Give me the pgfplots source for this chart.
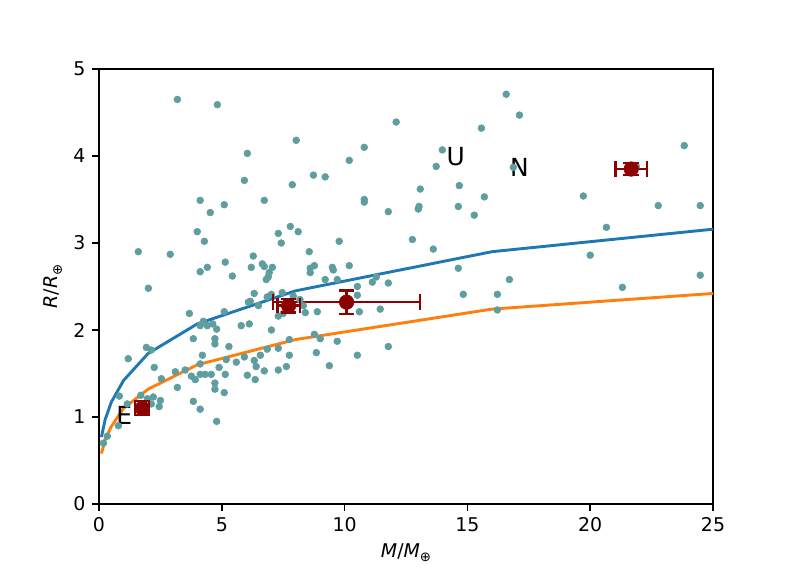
\documentclass[border=0pt]{standalone}
\usepackage{pgfplots}
\pgfplotsset{compat=1.18}
\usepackage{fontspec}
\setmainfont{DejaVu Sans}
\definecolor{cadet}{HTML}{5F9EA0}
\definecolor{dred}{HTML}{8B0000}
\definecolor{mblue}{HTML}{1F77B4}
\definecolor{morange}{HTML}{FF7F0E}
\newcommand{\oplussub}{\raisebox{-0.22em}{\fontsize{13.3}{13}\selectfont ⊕}}
\begin{document}
\begin{tikzpicture}
\useasboundingbox (0,0) rectangle (792bp,576bp);
\begin{axis}[
  at={(99bp,72bp)}, anchor=south west,
  scale only axis, width=614bp, height=435bp,
  xmin=0, xmax=25, ymin=0, ymax=5,
  xtick={0,5,10,15,20,25}, ytick={0,1,2,3,4,5},
  xtick pos=bottom, ytick pos=left,
  tick align=outside, major tick length=6.7bp,
  tick style={line width=1.5bp, black},
  axis line style={line width=1.5bp},
  ticklabel style={font=\fontsize{19}{19}\selectfont},
  /pgf/number format/assume math mode=true,
  xticklabel style={inner sep=0pt, yshift=-6.7bp},
  yticklabel style={inner sep=0pt, xshift=-6.7bp},
  xlabel={\textit{M}/\textit{M}\oplussub},
  ylabel={\textit{R}/\textit{R}\oplussub},
  label style={font=\fontsize{19}{19}\selectfont},
  xlabel style={at={(axis description cs:0.5,0)}, anchor=center, yshift=-49bp},
  ylabel style={at={(axis description cs:0,0.5)}, anchor=center, rotate=0, yshift=46bp},
  clip=true,
  unbounded coords=jump,
]
\addplot[cadet, only marks, mark=*, mark size=3.4bp, mark options={solid, draw=cadet, fill=cadet, line width=0.6bp}] table {
x y
3.19 4.65
4.82 4.59
8.03 4.18
6.04 4.03
5.92 3.72
7.87 3.67
4.12 3.49
5.10 3.44
6.73 3.49
4.53 3.35
4.00 3.13
4.29 3.02
7.30 3.11
7.79 3.19
8.11 3.13
7.42 3.00
1.60 2.90
2.90 2.87
5.14 2.78
6.28 2.85
4.12 2.67
4.41 2.72
5.43 2.62
6.20 2.72
6.65 2.76
6.73 2.73
7.06 2.72
6.93 2.66
6.89 2.61
6.81 2.58
2.01 2.48
8.73 3.78
9.21 3.76
8.56 2.90
8.60 2.71
8.77 2.74
8.60 2.66
9.50 2.72
9.54 2.69
9.21 2.58
9.70 2.58
9.78 3.02
12.10 4.39
10.80 4.10
10.19 3.95
16.58 4.71
17.12 4.47
15.57 4.32
13.98 4.07
13.73 3.88
14.67 3.66
15.69 3.53
13.08 3.62
10.80 3.50
10.80 3.47
11.78 3.36
13.03 3.42
13.00 3.39
14.63 3.42
15.28 3.32
12.76 3.04
13.61 2.93
10.19 2.74
10.52 2.50
11.13 2.55
11.29 2.61
11.78 2.54
14.63 2.71
16.71 2.58
16.87 3.87
23.83 4.12
21.88 3.88
19.72 3.54
22.77 3.43
24.48 3.43
20.66 3.18
20.00 2.86
21.31 2.49
24.48 2.63
8.18 2.35
8.32 2.28
8.40 2.20
8.89 2.21
10.52 2.40
10.60 2.21
11.45 2.24
14.83 2.41
16.22 2.41
16.22 2.23
8.77 1.95
9.01 1.90
9.70 1.87
8.85 1.74
9.38 1.59
10.52 1.71
11.78 1.81
6.32 2.42
6.08 2.32
6.16 2.33
6.85 2.38
7.02 2.41
7.46 2.43
7.91 2.39
5.10 2.21
6.49 2.28
7.30 2.16
7.50 2.19
5.79 2.05
6.12 2.07
7.02 2.00
4.79 2.01
4.72 1.90
4.72 1.84
5.29 1.81
7.75 1.89
6.85 1.78
7.30 1.79
6.57 1.71
6.32 1.65
6.40 1.58
7.75 1.71
5.92 1.69
5.59 1.63
5.18 1.66
4.89 1.57
5.14 1.49
6.04 1.48
6.36 1.43
6.73 1.53
7.30 1.54
7.63 1.58
4.72 1.39
4.72 1.32
5.10 1.28
4.79 0.95
3.68 2.19
4.25 2.10
4.12 2.05
4.41 2.05
4.63 2.07
3.84 1.90
1.93 1.80
2.13 1.77
1.19 1.67
2.25 1.57
4.21 1.71
3.11 1.52
3.51 1.54
3.76 1.47
3.92 1.43
4.12 1.61
4.12 1.49
4.32 1.49
4.57 1.49
2.54 1.44
3.19 1.34
3.84 1.18
4.12 1.09
0.83 1.24
1.15 1.15
0.79 0.90
0.34 0.78
0.18 0.70
1.97 1.21
2.21 1.23
2.13 1.15
2.50 1.19
2.45 1.12
1.70 1.25
1.75 1.15
};
\addplot[mblue, line width=2.9bp, no marks] coordinates {
(0.1,0.77) (0.25,0.97) (0.5,1.17) (1,1.42) (2,1.73) (4,2.07) (8,2.45) (16,2.90) (32,3.36)
};
\addplot[morange, line width=2.9bp, no marks] coordinates {
(0.1,0.58) (0.25,0.74) (0.5,0.89) (1,1.10) (2,1.32) (4,1.60) (8,1.89) (16,2.24) (32,2.56)
};
% horizontal error bars (x +- err) with vertical caps
\addplot[dred, line width=2.5bp, mark=|, mark size=7.8bp, mark options={solid, line width=2.2bp}] coordinates {
(1.47,1.10) (2.05,1.10) (nan,nan)
(7.27,2.28) (8.17,2.28) (nan,nan)
(7.09,2.32) (13.07,2.32) (nan,nan)
(21.03,3.85) (22.31,3.85)
};
% vertical error bars (y +- err) with horizontal caps
\addplot[dred, line width=2.5bp, mark=-, mark size=7.8bp, mark options={solid, line width=2.2bp}] coordinates {
(1.76,1.02) (1.76,1.18) (nan,nan)
(7.72,2.20) (7.72,2.36) (nan,nan)
(10.08,2.186) (10.08,2.454) (nan,nan)
(21.67,3.78) (21.67,3.92)
};
% planet markers
\addplot[dred, only marks, mark=*, mark size=7.3bp, mark options={fill=dred, draw=dred, line width=0.5bp}] coordinates {
(1.76,1.10) (7.72,2.28) (10.08,2.32) (21.67,3.85)
};
\node[anchor=base west, inner sep=0pt, font=\fontsize{25}{25}\selectfont] at (axis cs:14.15,3.893) {U};
\node[anchor=base west, inner sep=0pt, font=\fontsize{25}{25}\selectfont] at (axis cs:16.73,3.77) {N};
\node[anchor=base west, inner sep=0pt, font=\fontsize{25}{25}\selectfont] at (axis cs:0.70,0.916) {E};
\end{axis}
\end{tikzpicture}
\end{document}
